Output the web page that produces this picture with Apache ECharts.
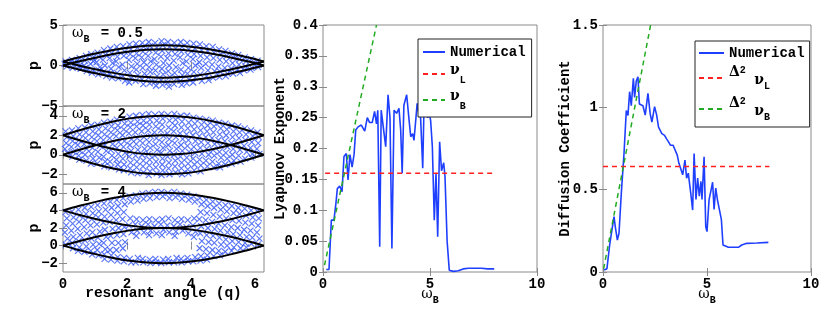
<!DOCTYPE html>
<html><head><meta charset="utf-8">
<script src="https://cdn.jsdelivr.net/npm/echarts@6/dist/echarts.min.js"></script>
<style>html,body{margin:0;padding:0;background:#fff}#c{width:830px;height:319px}</style>
</head><body><div id="c"></div>
<script>
// ---------------- data ----------------
const SEP_Q = [0,0.52,1.05,1.57,2.09,2.62,3.14,3.67,4.19,4.71,5.24,5.76,6.28];
const SEP_P_05 = [
  [0,0.52,1.0,1.41,1.73,1.93,2.0,1.93,1.73,1.41,1.0,0.52,0],
  [0,-0.52,-1.0,-1.41,-1.73,-1.93,-2.0,-1.93,-1.73,-1.41,-1.0,-0.52,0],
  [0.5,1.02,1.5,1.91,2.23,2.43,2.5,2.43,2.23,1.91,1.5,1.02,0.5],
  [0.5,-0.02,-0.5,-0.91,-1.23,-1.43,-1.5,-1.43,-1.23,-0.91,-0.5,-0.02,0.5]
];
const SEP_P_2 = [
  [0,0.52,1.0,1.41,1.73,1.93,2.0,1.93,1.73,1.41,1.0,0.52,0],
  [0,-0.52,-1.0,-1.41,-1.73,-1.93,-2.0,-1.93,-1.73,-1.41,-1.0,-0.52,0],
  [2,2.52,3.0,3.41,3.73,3.93,4.0,3.93,3.73,3.41,3.0,2.52,2],
  [2,1.48,1.0,0.59,0.27,0.07,0,0.07,0.27,0.59,1.0,1.48,2]
];
const SEP_P_4 = [
  [0,0.52,1.0,1.41,1.73,1.93,2.0,1.93,1.73,1.41,1.0,0.52,0],
  [0,-0.52,-1.0,-1.41,-1.73,-1.93,-2.0,-1.93,-1.73,-1.41,-1.0,-0.52,0],
  [4,4.52,5.0,5.41,5.73,5.93,6.0,5.93,5.73,5.41,5.0,4.52,4],
  [4,3.48,3.0,2.59,2.27,2.07,2.0,2.07,2.27,2.59,3.0,3.48,4]
];
const SCAT_05 = [
[0.08,0.5],[0.12,-0.1],[0.05,0.2],[0.28,0.7],[0.33,0.1],[0.3,-0.3],[0.25,0.4],
[0.52,0.9],[0.47,0.3],[0.55,-0.4],[0.5,-0.1],[0.45,0.6],
[0.72,1.2],[0.68,0.6],[0.74,-0.7],[0.66,0.0],[0.7,-0.3],
[0.88,1.4],[0.93,0.9],[0.86,0.2],[0.92,-0.5],[0.9,-0.9],[0.95,0.5],
[1.08,1.6],[1.12,1.1],[1.05,0.4],[1.15,-0.2],[1.1,-1.1],[1.13,-0.6],
[1.28,1.9],[1.33,1.3],[1.25,0.7],[1.31,0.0],[1.27,-0.8],[1.35,-1.3],
[1.48,2.1],[1.52,1.5],[1.46,0.9],[1.55,0.3],[1.5,-0.4],[1.47,-1.0],[1.53,-1.5],
[1.68,2.3],[1.72,1.8],[1.7,1.1],[1.66,0.5],[1.74,-0.2],[1.69,-0.9],[1.73,-1.6],
[1.88,2.4],[1.93,1.7],[1.9,1.2],[1.86,0.1],[1.92,-0.6],[1.87,-1.3],[1.94,-1.9],
[2.08,2.6],[2.12,2.0],[2.1,1.4],[2.06,0.7],[2.14,-0.1],[2.09,-0.9],[2.13,-1.6],[2.07,-2.1],
[2.28,2.7],[2.33,2.2],[2.3,1.5],[2.26,0.9],[2.32,0.2],[2.29,-0.5],[2.34,-1.2],[2.27,-1.9],
[2.48,2.8],[2.52,2.3],[2.5,1.7],[2.46,1.0],[2.53,0.4],[2.49,-0.3],[2.55,-1.0],[2.47,-1.7],[2.51,-2.3],
[2.68,2.9],[2.72,2.4],[2.7,1.9],[2.66,1.2],[2.74,0.5],[2.69,-0.2],[2.73,-0.8],[2.67,-1.5],[2.71,-2.2],
[2.88,2.8],[2.93,2.2],[2.9,1.6],[2.86,0.8],[2.92,0.1],[2.89,-0.6],[2.94,-1.3],[2.87,-2.0],[2.91,-2.5],
[3.08,3.0],[3.12,2.5],[3.1,1.8],[3.06,1.1],[3.14,0.3],[3.09,-0.4],[3.13,-1.1],[3.07,-1.8],[3.11,-2.4],
[3.28,2.9],[3.33,2.3],[3.3,1.5],[3.26,0.9],[3.32,0.0],[3.29,-0.7],[3.34,-1.4],[3.27,-2.1],[3.31,-2.6],
[3.48,2.8],[3.52,2.1],[3.5,1.4],[3.46,0.6],[3.53,-0.2],[3.49,-0.9],[3.55,-1.6],[3.47,-2.3],
[3.68,2.9],[3.72,2.3],[3.7,1.7],[3.66,1.0],[3.74,0.3],[3.69,-0.5],[3.73,-1.2],[3.67,-1.9],[3.71,-2.4],
[3.88,2.8],[3.93,2.0],[3.9,1.3],[3.86,0.5],[3.92,-0.3],[3.89,-1.0],[3.94,-1.7],[3.87,-2.2],
[4.08,2.7],[4.12,2.1],[4.1,1.4],[4.06,0.8],[4.14,0.0],[4.09,-0.8],[4.13,-1.5],[4.07,-2.1],
[4.28,2.6],[4.33,1.9],[4.3,1.2],[4.26,0.4],[4.32,-0.3],[4.29,-1.1],[4.34,-1.9],
[4.48,2.4],[4.52,1.8],[4.5,1.0],[4.46,0.2],[4.53,-0.6],[4.49,-1.3],[4.55,-1.8],
[4.68,2.3],[4.72,1.6],[4.7,0.9],[4.66,0.1],[4.74,-0.7],[4.69,-1.5],
[4.88,2.0],[4.93,1.4],[4.9,0.7],[4.86,-0.1],[4.92,-0.8],[4.89,-1.4],
[5.08,1.8],[5.12,1.2],[5.1,0.5],[5.06,-0.3],[5.14,-1.0],[5.09,-1.3],
[5.28,1.5],[5.33,1.0],[5.3,0.3],[5.26,-0.4],[5.32,-1.0],
[5.48,1.3],[5.52,0.8],[5.5,0.1],[5.46,-0.5],[5.53,-0.9],
[5.68,1.0],[5.72,0.5],[5.7,-0.1],[5.66,-0.6],
[5.88,0.8],[5.93,0.3],[5.9,-0.3],[5.86,-0.5],
[6.08,0.6],[6.12,0.1],[6.1,-0.2]
];
const SCAT_2 = [
[0.08,2.4],[0.12,1.8],[0.1,1.2],[0.06,0.6],[0.14,0.2],
[0.28,2.5],[0.32,1.9],[0.3,1.4],[0.26,0.8],[0.33,0.3],[0.29,-0.2],
[0.48,2.7],[0.52,2.1],[0.5,1.5],[0.46,1.0],[0.53,0.4],[0.49,-0.1],[0.51,-0.5],
[0.68,2.8],[0.72,2.3],[0.7,1.7],[0.66,1.1],[0.74,0.6],[0.69,0.0],[0.73,-0.6],
[0.88,3.0],[0.93,2.4],[0.9,1.8],[0.86,1.2],[0.92,0.7],[0.89,0.1],[0.94,-0.4],[0.87,-0.9],
[1.08,3.1],[1.12,2.6],[1.1,2.0],[1.06,1.4],[1.15,0.9],[1.09,0.3],[1.13,-0.3],[1.07,-0.9],
[1.28,3.3],[1.33,2.7],[1.3,2.1],[1.26,1.5],[1.31,1.0],[1.35,0.4],[1.27,-0.2],[1.32,-0.7],[1.29,-1.2],
[1.48,3.4],[1.52,2.9],[1.5,2.3],[1.46,1.7],[1.55,1.1],[1.49,0.5],[1.53,-0.1],[1.47,-0.7],[1.51,-1.3],
[1.68,3.6],[1.72,3.0],[1.7,2.5],[1.66,1.9],[1.74,1.3],[1.69,0.7],[1.73,0.1],[1.67,-0.5],[1.71,-1.0],[1.75,-1.5],
[1.88,3.7],[1.93,3.2],[1.9,2.6],[1.86,2.0],[1.92,1.4],[1.89,0.8],[1.94,0.2],[1.87,-0.4],[1.91,-1.0],[1.9,-1.6],
[2.08,3.9],[2.12,3.3],[2.1,2.8],[2.06,2.2],[2.14,1.6],[2.09,1.0],[2.13,0.4],[2.07,-0.2],[2.11,-0.8],[2.1,-1.4],[2.13,-1.8],
[2.28,4.0],[2.33,3.4],[2.3,2.9],[2.26,2.3],[2.32,1.7],[2.29,1.1],[2.34,0.5],[2.27,-0.1],[2.31,-0.7],[2.3,-1.3],[2.33,-1.9],
[2.48,4.1],[2.52,3.5],[2.5,3.0],[2.46,2.4],[2.53,1.8],[2.49,1.2],[2.55,0.6],[2.47,0.0],[2.51,-0.6],[2.5,-1.2],[2.52,-1.8],
[2.68,4.2],[2.72,3.6],[2.7,3.1],[2.66,2.5],[2.74,1.9],[2.69,1.3],[2.73,0.7],[2.67,0.1],[2.71,-0.5],[2.7,-1.1],[2.72,-1.7],[2.68,-2.1],
[2.88,4.1],[2.93,3.5],[2.9,2.9],[2.86,2.3],[2.92,1.7],[2.89,1.1],[2.94,0.5],[2.87,-0.1],[2.91,-0.7],[2.9,-1.3],[2.93,-1.9],
[3.08,4.2],[3.12,3.7],[3.1,3.1],[3.06,2.5],[3.14,1.9],[3.09,1.3],[3.13,0.7],[3.07,0.2],[3.11,-0.4],[3.1,-1.0],[3.12,-1.6],[3.08,-2.1],
[3.28,4.1],[3.33,3.5],[3.3,2.8],[3.26,2.2],[3.32,1.6],[3.29,1.0],[3.34,0.4],[3.27,-0.2],[3.31,-0.8],[3.3,-1.4],[3.33,-2.0],
[3.48,4.2],[3.52,3.6],[3.5,3.0],[3.46,2.4],[3.53,1.8],[3.49,1.2],[3.55,0.6],[3.47,0.0],[3.51,-0.6],[3.5,-1.2],[3.52,-1.8],
[3.68,4.0],[3.72,3.4],[3.7,2.8],[3.66,2.2],[3.74,1.6],[3.69,1.0],[3.73,0.4],[3.67,-0.2],[3.71,-0.8],[3.7,-1.4],[3.72,-2.0],
[3.88,4.0],[3.93,3.3],[3.9,2.7],[3.86,2.1],[3.92,1.5],[3.89,0.9],[3.94,0.3],[3.87,-0.3],[3.91,-0.9],[3.9,-1.5],[3.92,-1.9],
[4.08,3.8],[4.12,3.2],[4.1,2.6],[4.06,2.0],[4.14,1.4],[4.09,0.8],[4.13,0.2],[4.07,-0.4],[4.11,-1.0],[4.1,-1.6],
[4.28,3.7],[4.33,3.1],[4.3,2.5],[4.26,1.9],[4.32,1.3],[4.29,0.7],[4.34,0.1],[4.27,-0.5],[4.31,-1.1],[4.3,-1.7],
[4.48,3.6],[4.52,3.0],[4.5,2.4],[4.46,1.8],[4.53,1.2],[4.49,0.6],[4.55,0.0],[4.47,-0.6],[4.51,-1.2],
[4.68,3.5],[4.72,2.9],[4.7,2.3],[4.66,1.7],[4.74,1.1],[4.69,0.5],[4.73,-0.1],[4.67,-0.7],[4.71,-1.3],
[4.88,3.3],[4.93,2.7],[4.9,2.1],[4.86,1.5],[4.92,0.9],[4.89,0.3],[4.94,-0.3],[4.87,-0.9],[4.91,-1.3],
[5.08,3.2],[5.12,2.6],[5.1,2.0],[5.06,1.4],[5.14,0.8],[5.09,0.2],[5.13,-0.4],[5.07,-1.0],
[5.28,3.0],[5.33,2.4],[5.3,1.8],[5.26,1.2],[5.32,0.6],[5.29,0.0],[5.34,-0.6],[5.27,-0.9],
[5.48,2.9],[5.52,2.3],[5.5,1.7],[5.46,1.1],[5.53,0.5],[5.49,-0.1],[5.55,-0.7],
[5.68,2.7],[5.72,2.1],[5.7,1.5],[5.66,0.9],[5.74,0.3],[5.69,-0.4],
[5.88,2.5],[5.93,1.9],[5.9,1.3],[5.86,0.7],[5.92,0.1],[5.89,-0.3],
[6.08,2.3],[6.12,1.8],[6.1,1.2],[6.06,0.6],[6.14,0.1]
];
const SCAT_4 = [
[0.08,3.8],[0.12,3.1],[0.1,2.3],[0.06,1.5],[0.14,0.8],[0.09,0.1],
[0.28,3.9],[0.33,3.2],[0.3,2.5],[0.26,1.7],[0.32,1.0],[0.29,0.3],[0.31,-0.3],
[0.48,4.1],[0.52,3.4],[0.5,2.7],[0.46,1.9],[0.53,1.2],[0.49,0.5],[0.51,-0.2],[0.47,-0.6],
[0.68,4.3],[0.72,3.6],[0.7,2.9],[0.66,2.1],[0.74,1.4],[0.69,0.6],[0.73,-0.1],[0.67,-0.7],
[0.88,4.4],[0.93,3.7],[0.9,3.0],[0.86,2.3],[0.92,1.5],[0.89,0.8],[0.94,0.1],[0.87,-0.6],[0.91,-1.0],
[1.08,4.6],[1.12,3.9],[1.1,3.2],[1.06,2.4],[1.15,1.6],[1.09,0.9],[1.13,0.2],[1.07,-0.5],[1.11,-1.1],
[1.28,4.8],[1.33,4.1],[1.3,3.3],[1.26,2.6],[1.31,1.8],[1.35,1.0],[1.27,0.3],[1.32,-0.4],[1.29,-1.0],[1.3,-1.5],
[1.48,5.0],[1.52,4.3],[1.5,3.5],[1.46,2.7],[1.55,1.9],[1.49,1.1],[1.53,0.3],[1.47,-0.5],[1.51,-1.1],[1.5,-1.6],
[1.68,5.2],[1.72,4.5],[1.7,3.7],[1.66,2.9],[1.74,2.0],[1.69,1.2],[1.73,0.3],[1.67,-0.5],[1.71,-1.3],[1.7,-1.7],
[1.88,5.4],[1.93,4.7],[1.9,3.8],[1.86,3.0],[1.92,2.1],[1.89,1.3],[1.94,0.4],[1.87,-0.3],[1.91,-1.4],[1.9,-1.8],
[2.08,5.6],[2.12,5.0],[2.1,3.1],[2.06,2.3],[2.14,1.5],[2.09,-1.5],[2.13,-1.9],
[2.28,5.7],[2.33,5.1],[2.3,3.0],[2.26,2.4],[2.32,1.7],[2.29,1.1],[2.34,-1.4],[2.27,-1.9],
[2.48,5.9],[2.52,5.3],[2.5,2.9],[2.46,2.2],[2.53,1.5],[2.49,-1.5],[2.51,-1.9],
[2.68,6.0],[2.72,5.4],[2.7,3.0],[2.66,2.4],[2.74,1.7],[2.69,1.2],[2.71,-1.6],[2.73,-2.0],
[2.88,6.1],[2.93,5.5],[2.9,2.9],[2.86,2.2],[2.92,1.4],[2.89,-1.5],[2.91,-1.9],
[3.08,6.1],[3.12,5.6],[3.1,3.0],[3.06,2.4],[3.14,1.8],[3.09,1.2],[3.13,-1.6],[3.07,-2.0],
[3.28,6.0],[3.33,5.4],[3.3,3.1],[3.26,2.3],[3.32,1.5],[3.29,-1.5],[3.31,-1.9],
[3.48,6.1],[3.52,5.5],[3.5,2.9],[3.46,2.2],[3.53,1.6],[3.49,1.1],[3.55,-1.4],[3.47,-1.9],
[3.68,5.9],[3.72,5.3],[3.7,3.0],[3.66,2.4],[3.74,1.7],[3.69,-1.5],[3.71,-1.9],
[3.88,5.8],[3.93,5.2],[3.9,2.9],[3.86,2.1],[3.92,1.4],[3.89,-1.4],[3.91,-1.8],
[4.08,5.6],[4.12,5.0],[4.1,3.1],[4.06,2.3],[4.14,1.6],[4.09,1.0],[4.13,-1.3],[4.07,-1.8],
[4.28,5.4],[4.33,4.7],[4.3,3.8],[4.26,3.0],[4.32,2.2],[4.29,1.4],[4.34,0.5],[4.27,-0.3],[4.31,-1.2],[4.3,-1.7],
[4.48,5.2],[4.52,4.5],[4.5,3.7],[4.46,2.9],[4.53,2.0],[4.49,1.2],[4.55,0.4],[4.47,-0.4],[4.51,-1.1],[4.5,-1.6],
[4.68,5.0],[4.72,4.3],[4.7,3.5],[4.66,2.7],[4.74,1.9],[4.69,1.1],[4.73,0.3],[4.67,-0.5],[4.71,-1.2],
[4.88,4.8],[4.93,4.1],[4.9,3.3],[4.86,2.5],[4.92,1.7],[4.89,0.9],[4.94,0.1],[4.87,-0.6],[4.91,-1.1],
[5.08,4.6],[5.12,3.9],[5.1,3.1],[5.06,2.3],[5.14,1.5],[5.09,0.7],[5.13,0.0],[5.07,-0.7],
[5.28,4.5],[5.33,3.7],[5.3,2.9],[5.26,2.1],[5.32,1.3],[5.29,0.5],[5.34,-0.2],[5.27,-0.6],
[5.48,4.3],[5.52,3.6],[5.5,2.8],[5.46,2.0],[5.53,1.2],[5.49,0.4],[5.55,-0.3],
[5.68,4.2],[5.72,3.4],[5.7,2.6],[5.66,1.8],[5.74,1.0],[5.69,0.3],[5.73,-0.2],
[5.88,4.0],[5.93,3.2],[5.9,2.5],[5.86,1.7],[5.92,0.9],[5.89,0.2],
[6.08,3.9],[6.12,3.1],[6.1,2.3],[6.06,1.5],[6.14,0.8],[6.09,0.1]
];
const OMEGA_LY = [0.15,0.28,0.39,0.51,0.6,0.67,0.78,0.89,0.98,1.09,1.17,1.26,1.36,1.45,1.53,1.64,1.79,1.87,1.95,2.07,2.18,2.3,2.41,2.5,2.56,2.65,2.72,2.81,2.93,3.04,3.13,3.22,3.32,3.44,3.55,3.63,3.7,3.78,3.91,4.03,4.1,4.19,4.25,4.32,4.4,4.48,4.56,4.66,4.72,4.81,4.89,4.97,5.03,5.11,5.2,5.28,5.36,5.45,5.54,5.64,5.7,5.8,5.9,6.09,6.32,6.55,6.8,7.1,7.4,7.7,8.0];
const LYAP = [0.004,0.004,0.084,0.084,0.11,0.135,0.139,0.13,0.187,0.192,0.149,0.19,0.17,0.19,0.23,0.235,0.238,0.24,0.228,0.25,0.242,0.242,0.26,0.24,0.262,0.041,0.262,0.265,0.203,0.287,0.25,0.038,0.262,0.257,0.265,0.23,0.16,0.27,0.287,0.243,0.219,0.224,0.213,0.24,0.273,0.257,0.25,0.168,0.268,0.257,0.25,0.257,0.245,0.203,0.084,0.16,0.057,0.211,0.164,0.177,0.155,0.05,0.003,0.001,0.002,0.005,0.006,0.006,0.006,0.005,0.005];
const OMEGA_DF = [0.05,0.19,0.32,0.4,0.53,0.59,0.69,0.77,0.88,1.01,1.12,1.2,1.28,1.36,1.46,1.52,1.6,1.68,1.75,1.92,2.03,2.16,2.27,2.35,2.48,2.58,2.67,2.75,2.83,2.96,3.05,3.15,3.24,3.37,3.46,3.57,3.65,3.73,3.83,3.94,4.02,4.1,4.22,4.31,4.38,4.47,4.55,4.63,4.71,4.76,4.86,4.94,5.0,5.1,5.2,5.27,5.34,5.42,5.5,5.58,5.69,5.77,6.03,6.27,6.51,6.67,6.91,7.4,7.95];
const DIFF = [0.012,0.02,0.164,0.164,0.336,0.276,0.194,0.235,0.478,0.72,0.98,0.95,1.095,1.01,1.176,1.06,1.16,1.186,1.02,1.01,0.953,1.085,0.96,0.91,1.004,0.953,0.88,0.87,0.84,0.83,0.81,0.79,0.77,0.77,0.76,0.71,0.66,0.63,0.59,0.68,0.57,0.6,0.478,0.376,0.72,0.44,0.57,0.46,0.55,0.44,0.70,0.275,0.245,0.44,0.5,0.545,0.38,0.51,0.44,0.44,0.32,0.164,0.15,0.15,0.15,0.164,0.174,0.176,0.18];
const NU_L = [[0.1,0.16],[8,0.16]];
const NU_B = [[0.07,0.011],[2.5,0.4]];
const D2NU_L = [[0,0.64],[8,0.64]];
const D2NU_B = [[0.03,0.02],[2.29,1.5]];
const PANEL_LABELS = ['0.5','2','4'];
const LY_TICKS = {min:0,max:0.4,interval:0.05};
const DF_TICKS = {min:0,max:1.5,interval:0.5};
const W_TICKS = {min:0,max:10,interval:5};
const Q_TICKS = [0,2,4,6];
const P_RANGES = [[-5,5],[-3,5],[-3,7]];
const P_TICKS = [[-5,0,5],[-2,0,2,4],[-2,0,2,4,6]];

// ---------------- chart ----------------
const MONO = '"Liberation Mono","DejaVu Sans Mono",monospace';
const SERIF = '"DejaVu Serif","Liberation Serif",serif';
const FRAME = '#8a8a8a';
const BLUE = '#1f3fff';
const SBLUE = '#2d50f2';
const RED = '#ff2020';
const GREEN = '#22aa22';

const grids = [
  {left:63, top:25, width:201, height:81},
  {left:63, top:106, width:201, height:78},
  {left:63, top:184, width:201, height:88},
  {left:323, top:25, width:214, height:247},
  {left:603, top:25, width:208, height:247}
].map(g => Object.assign({show:true, borderColor:FRAME, borderWidth:1, backgroundColor:'transparent'}, g));

const lbl = {fontFamily:MONO, fontWeight:'bold', fontSize:14, color:'#000'};
const tick = {show:true, inside:true, length:4, lineStyle:{color:FRAME}};
const fmtMinus = v => (v < 0 ? '\u2212' + Math.abs(v) : String(v));
const omegaName = {
  name:'{w|\u03c9}{s|B}', nameLocation:'middle', nameGap:15, nameMoveOverlap:false,
  nameTextStyle:{rich:{
    w:{fontFamily:SERIF, fontSize:14, verticalAlign:'top', lineHeight:18, color:'#000'},
    s:{fontFamily:MONO, fontWeight:'bold', fontSize:10, verticalAlign:'bottom', lineHeight:18, color:'#000'}
  }}
};

const xAxes = [], yAxes = [];
for (let i = 0; i < 3; i++) {
  xAxes.push({type:'value', gridIndex:i, min:0, max:6.2832, axisLine:{show:false}, splitLine:{show:false},
    axisTick:Object.assign({customValues:Q_TICKS}, tick),
    axisLabel:Object.assign({show:i===2, customValues:Q_TICKS, margin:5}, lbl),
    name: i===2 ? 'resonant angle (q)' : '', nameLocation:'middle', nameGap:14, nameMoveOverlap:false,
    nameTextStyle:Object.assign({}, lbl, {fontSize:14.5})});
}
xAxes.push(Object.assign({type:'value', gridIndex:3, min:W_TICKS.min, max:W_TICKS.max, interval:W_TICKS.interval,
  axisLine:{show:false}, splitLine:{show:false}, axisTick:tick, axisLabel:Object.assign({margin:5}, lbl)}, omegaName));
xAxes.push(Object.assign({type:'value', gridIndex:4, min:W_TICKS.min, max:W_TICKS.max, interval:W_TICKS.interval,
  axisLine:{show:false}, splitLine:{show:false}, axisTick:tick, axisLabel:Object.assign({margin:5}, lbl)}, omegaName));
for (let i = 0; i < 3; i++) {
  xAxes.push({type:'value', gridIndex:i, position:'top', min:0, max:6.2832, axisLine:{show:false}, splitLine:{show:false},
    axisTick:Object.assign({customValues:Q_TICKS}, tick), axisLabel:{show:false}});
}
for (let i = 3; i < 5; i++) {
  xAxes.push({type:'value', gridIndex:i, position:'top', min:W_TICKS.min, max:W_TICKS.max, interval:W_TICKS.interval,
    axisLine:{show:false}, splitLine:{show:false}, axisTick:tick, axisLabel:{show:false}});
}

for (let i = 0; i < 3; i++) {
  yAxes.push({type:'value', gridIndex:i, min:P_RANGES[i][0], max:P_RANGES[i][1], axisLine:{show:false}, splitLine:{show:false},
    axisTick:Object.assign({customValues:P_TICKS[i]}, tick),
    axisLabel:Object.assign({customValues:P_TICKS[i], formatter:fmtMinus, margin:5}, lbl),
    name:'p', nameLocation:'middle', nameGap:21, nameRotate:90, nameMoveOverlap:false,
    nameTextStyle:Object.assign({}, lbl, {fontSize:15})});
}
yAxes.push({type:'value', gridIndex:3, min:LY_TICKS.min, max:LY_TICKS.max, interval:LY_TICKS.interval,
  axisLine:{show:false}, splitLine:{show:false}, axisTick:tick, axisLabel:Object.assign({margin:5}, lbl),
  name:'Lyapunov Exponent', nameLocation:'middle', nameGap:36, nameRotate:90, nameMoveOverlap:false,
  nameTextStyle:Object.assign({}, lbl, {fontSize:14})});
yAxes.push({type:'value', gridIndex:4, min:DF_TICKS.min, max:DF_TICKS.max, interval:DF_TICKS.interval,
  axisLine:{show:false}, splitLine:{show:false}, axisTick:tick, axisLabel:Object.assign({margin:5}, lbl),
  name:'Diffusion Coefficient', nameLocation:'middle', nameGap:31, nameRotate:90, nameMoveOverlap:false,
  nameTextStyle:Object.assign({}, lbl, {fontSize:14})});
for (let i = 0; i < 3; i++) {
  yAxes.push({type:'value', gridIndex:i, position:'right', min:P_RANGES[i][0], max:P_RANGES[i][1], axisLine:{show:false}, splitLine:{show:false},
    axisTick:Object.assign({customValues:P_TICKS[i]}, tick), axisLabel:{show:false}});
}
yAxes.push({type:'value', gridIndex:3, position:'right', min:LY_TICKS.min, max:LY_TICKS.max, interval:LY_TICKS.interval,
  axisLine:{show:false}, splitLine:{show:false}, axisTick:tick, axisLabel:{show:false}});
yAxes.push({type:'value', gridIndex:4, position:'right', min:DF_TICKS.min, max:DF_TICKS.max, interval:DF_TICKS.interval,
  axisLine:{show:false}, splitLine:{show:false}, axisTick:tick, axisLabel:{show:false}});

const series = [];
const scat = [SCAT_05, SCAT_2, SCAT_4];
const seps = [SEP_P_05, SEP_P_2, SEP_P_4];
for (let i = 0; i < 3; i++) {
  series.push({type:'scatter', xAxisIndex:i, yAxisIndex:i, data:scat[i], symbol:'path://M0,0L10,10M10,0L0,10',
    symbolSize:6, itemStyle:{color:'none', borderColor:SBLUE, borderWidth:1.1}, silent:true, z:2});
  seps[i].forEach(arr => {
    series.push({type:'line', xAxisIndex:i, yAxisIndex:i, data:SEP_Q.map((q, k) => [q, arr[k]]),
      symbol:'none', smooth:0.4, lineStyle:{color:'#000', width:2}, silent:true, z:3});
  });
}
series.push({name:'Numerical', type:'line', xAxisIndex:3, yAxisIndex:3, data:OMEGA_LY.map((w,k)=>[w, LYAP[k]]),
  symbol:'none', lineStyle:{color:BLUE, width:1.6}, itemStyle:{color:BLUE}, z:3});
series.push({name:'nuL', type:'line', xAxisIndex:3, yAxisIndex:3, data:NU_L, symbol:'none',
  lineStyle:{color:RED, width:1.5, type:[5,4]}, itemStyle:{color:RED}, z:4});
series.push({name:'nuB', type:'line', xAxisIndex:3, yAxisIndex:3, data:NU_B, symbol:'none',
  lineStyle:{color:GREEN, width:1.5, type:[5,4]}, itemStyle:{color:GREEN}, z:4});
series.push({name:'Numerical', type:'line', xAxisIndex:4, yAxisIndex:4, data:OMEGA_DF.map((w,k)=>[w, DIFF[k]]),
  symbol:'none', lineStyle:{color:BLUE, width:1.6}, itemStyle:{color:BLUE}, z:3});
series.push({name:'d2nuL', type:'line', xAxisIndex:4, yAxisIndex:4, data:D2NU_L, symbol:'none',
  lineStyle:{color:RED, width:1.5, type:[5,4]}, itemStyle:{color:RED}, z:4});
series.push({name:'d2nuB', type:'line', xAxisIndex:4, yAxisIndex:4, data:D2NU_B, symbol:'none',
  lineStyle:{color:GREEN, width:1.5, type:[5,4]}, itemStyle:{color:GREEN}, z:4});

const LEG_TEXT = {
  'Numerical':'Numerical',
  'nuL':'{n|\u03bd}{s|L}', 'nuB':'{n|\u03bd}{s|B}',
  'd2nuL':'{d|\u0394}{p|2} {m|\u03bd}{s|L}', 'd2nuB':'{d|\u0394}{p|2} {m|\u03bd}{s|B}'
};
const legRich = {
  n:{fontFamily:SERIF, fontSize:14, verticalAlign:'top', lineHeight:22, color:'#000'},
  m:{fontFamily:SERIF, fontSize:14, verticalAlign:'bottom', lineHeight:26, padding:[0,0,4,0], color:'#000'},
  d:{fontFamily:SERIF, fontSize:14, verticalAlign:'top', lineHeight:26, color:'#000'},
  p:{fontFamily:MONO, fontWeight:'bold', fontSize:10, verticalAlign:'top', lineHeight:26, color:'#000'},
  s:{fontFamily:MONO, fontWeight:'bold', fontSize:10, verticalAlign:'bottom', lineHeight:22, color:'#000'}
};
const legBase = {orient:'vertical', itemWidth:22, itemHeight:12, borderColor:'#222', borderWidth:1,
  backgroundColor:'#fff', selectedMode:false, formatter:n => LEG_TEXT[n],
  itemStyle:{opacity:0}, textStyle:Object.assign({}, lbl, {rich:legRich})};

const legends = [
  Object.assign({}, legBase, {data:['Numerical','nuL','nuB'], left:418, top:39, itemGap:4, padding:[6,6,6,4]}),
  Object.assign({}, legBase, {data:['Numerical','d2nuL','d2nuB'], left:695, top:41, itemGap:5, itemWidth:25, padding:[5,5,5,3]})
];

const titleRich = {
  w:{fontFamily:SERIF, fontSize:14, verticalAlign:'top', lineHeight:18, fill:'#000'},
  s:{fontFamily:MONO, fontWeight:'bold', fontSize:10, verticalAlign:'bottom', lineHeight:18, fill:'#000'},
  t:{fontFamily:MONO, fontWeight:'bold', fontSize:14, verticalAlign:'top', lineHeight:18, fill:'#000', padding:[0,0,0,3]}
};
const titleTops = [25, 106, 184];
const graphic = PANEL_LABELS.map((v, i) => ({
  type:'text', left:72, top:titleTops[i] + 1, silent:true, z:10,
  style:{text:'{w|\u03c9}{s|B}{t| = ' + v + '}', rich:titleRich}
}));

const chart = echarts.init(document.getElementById('c'), null, {renderer:'canvas'});
chart.setOption({
  animation:false, backgroundColor:'#fff',
  grid:grids, xAxis:xAxes, yAxis:yAxes, series:series, legend:legends, graphic:graphic
});
</script></body></html>
